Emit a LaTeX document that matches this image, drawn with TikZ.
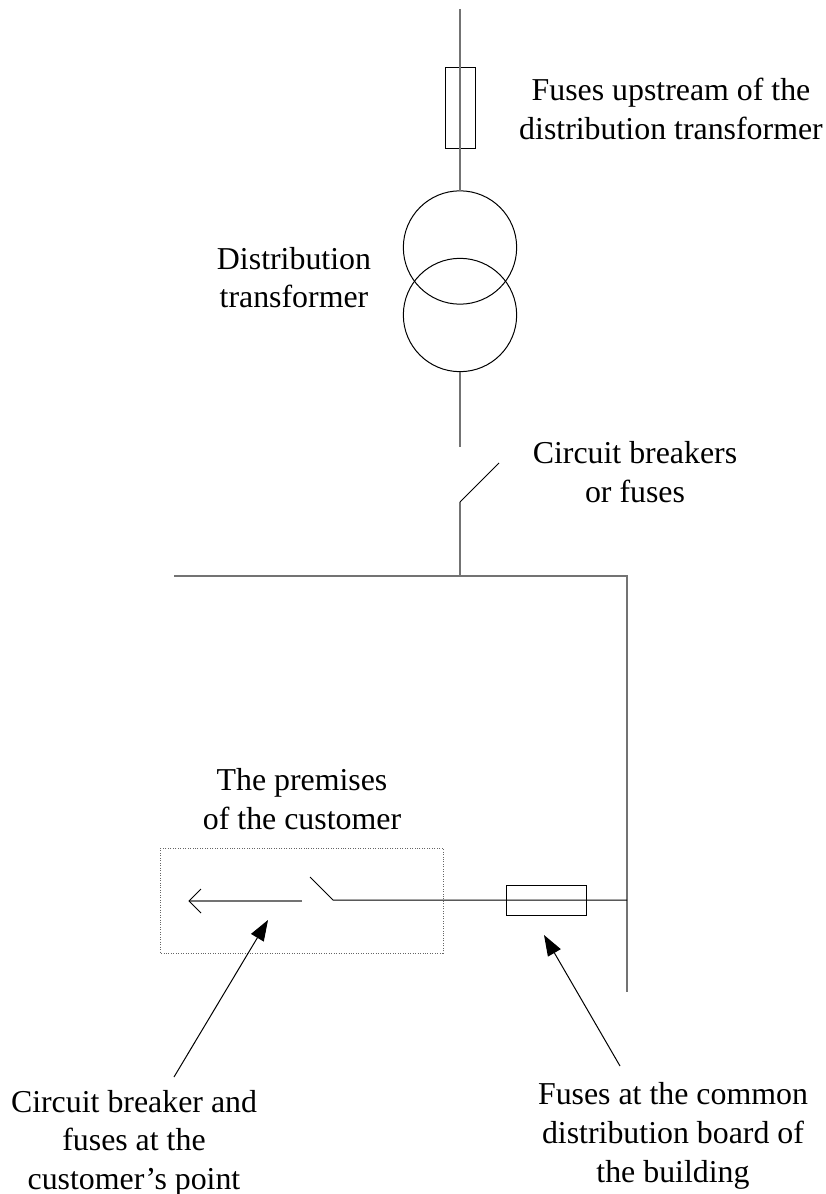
\documentclass[tikz,border=0pt]{standalone}
\usepackage{fontspec}
\setmainfont{Liberation Serif}
\usetikzlibrary{arrows.meta}
\tikzset{x=0.75pt,y=-0.75pt,
 ln/.style={draw=black,line width=0.75pt},
 wire/.style={draw=black!55,line width=1.2pt},
 fuse/.style={ln,rectangle,inner sep=0pt,outer sep=0pt},
 coil/.style={ln,circle,inner sep=0pt,outer sep=0pt,minimum size=85pt},
 lbl/.style={align=center,font=\fontsize{23.9}{29}\selectfont,inner sep=0pt,text=black},
 big/.style={ln,-{Triangle[length=15.5pt,width=11pt]}},
 dotbox/.style={draw=black!60,line width=0.6pt,dash pattern=on 0.75pt off 1.1pt}}
\begin{document}
\begin{tikzpicture}
\useasboundingbox (0,0) rectangle (825,1194);
\node[lbl] (t1) at (671,109) {Fuses upstream of the\\distribution transformer};
\node[lbl] (t2) at (294,277.5) {Distribution\\transformer};
\node[lbl] (t3) at (635,472) {Circuit breakers\\or fuses};
\node[lbl] (t4) at (302,799) {The premises\\of the customer};
\node[lbl] (t5) at (134,1143) {Circuit breaker and\\fuses at the\\customer's point};
\node[lbl] (t6) at (673,1136) {Fuses at the common\\distribution board of\\the building};
\coordinate (top) at (460,9);
\node[fuse,minimum width=22.5pt,minimum height=60.5pt] (f1) at (460,108) {};
\node[coil] (c1) at (460,247.5) {};
\node[coil] (c2) at (460,315) {};
\coordinate (lowend) at (460,447);
\coordinate (brkA) at (460,502);
\coordinate (brkB) at (499,463);
\coordinate (junc) at (460,576);
\coordinate (busL) at (174,576);
\coordinate (busC) at (627,576);
\coordinate (busE) at (627,992);
\coordinate (tap) at (627,900);
\coordinate (swA) at (333,900);
\coordinate (swB) at (310,877);
\coordinate (loadA) at (302,901);
\coordinate (loadB) at (189,901);
\coordinate (barbA) at (201,889);
\coordinate (barbB) at (201,913);
\coordinate (boxA) at (160,848);
\coordinate (boxB) at (443,953);
\coordinate (tipL) at (268,920);
\coordinate (tailL) at (174,1077);
\coordinate (tipR) at (544,935);
\coordinate (tailR) at (620,1066);
\draw[wire] (top) -- (c1.north);
\draw[wire] (c2.south) -- (lowend);
\draw[wire] (junc) -- (brkA);
\draw[ln] (brkA) -- (brkB);
\draw[wire] (busL) -- (busC) -- (busE);
\node[fuse,minimum width=60pt,minimum height=22.5pt] (f2) at (546,900) {};
\draw[ln] (swB) -- (swA) -- (tap);
\draw[wire] (loadA) -- (loadB);
\draw[ln] (barbA) -- (loadB) -- (barbB);
\draw[dotbox] (boxA) rectangle (boxB);
\draw[big] (tailL) -- (tipL);
\draw[big] (tailR) -- (tipR);
\end{tikzpicture}
\end{document}
